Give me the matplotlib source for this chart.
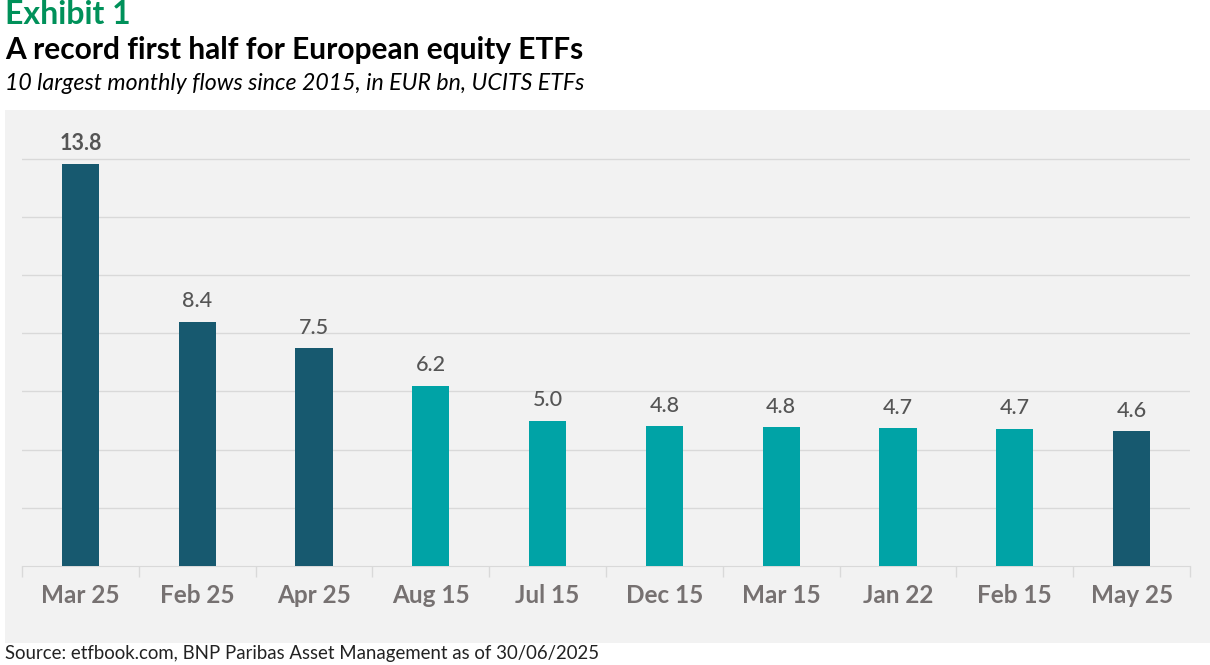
import matplotlib
matplotlib.use("Agg")
import matplotlib.pyplot as plt
from matplotlib.patches import Rectangle

# === Data ===
months = ["Mar 25", "Feb 25", "Apr 25", "Aug 15", "Jul 15",
          "Dec 15", "Mar 15", "Jan 22", "Feb 15", "May 25"]
flows = [13.8, 8.4, 7.5, 6.2, 5.0, 4.8, 4.76, 4.73, 4.72, 4.63]
is_2025 = [True, True, True, False, False, False, False, False, False, True]

DARK = "#17596f"
TEAL = "#00a3a6"
GRID = "#d9d9d9"

plt.rcParams["font.family"] = ["Lato", "DejaVu Sans"]

fig = plt.figure(figsize=(12.1, 6.65), dpi=100)
fig.patch.set_facecolor("white")

# gray panel behind the chart
fig.patches.append(Rectangle((5 / 1210, 22 / 665), 1205 / 1210, 533 / 665,
                             transform=fig.transFigure, facecolor="#f2f2f2",
                             edgecolor="none", zorder=-1))

ax = fig.add_axes([22 / 1210, 99 / 665, 1168 / 1210, 436.5 / 665])
ax.set_facecolor("none")
ax.set_zorder(1)

x = range(len(months))
colors = [DARK if c else TEAL for c in is_2025]
ax.bar(x, flows, width=0.32, color=colors, zorder=3)

for i, v in enumerate(flows):
    ax.text(i, v + 0.35, f"{v:.1f}", ha="center", va="bottom",
            fontsize=15.5, color="#555555",
            fontweight="bold" if i == 0 else "medium")

ax.set_xlim(-0.5, len(months) - 0.5)
ax.set_ylim(0, 15)
ax.set_yticks(range(2, 15, 2))
ax.yaxis.grid(True, color=GRID, linewidth=1)
ax.set_axisbelow(True)
ax.tick_params(axis="y", left=False, labelleft=False)

ax.set_xticks(x)
ax.set_xticklabels(months, fontsize=17.5, fontweight="bold", color="#767171")
ax.tick_params(axis="x", length=0, pad=13)
ax.set_xticks([i - 0.5 for i in range(len(months) + 1)], minor=True)
ax.tick_params(axis="x", which="minor", length=8, color=GRID, width=1)

for s in ["top", "right", "left"]:
    ax.spines[s].set_visible(False)
ax.spines["bottom"].set_color(GRID)

fig.text(5 / 1210, 1 - 15 / 665, "Exhibit 1", fontsize=23, fontweight="bold",
         color="#00915a", va="center", ha="left")
fig.text(5 / 1210, 1 - 50 / 665, "A record first half for European equity ETFs",
         fontsize=21.5, fontweight="bold", color="black", va="center", ha="left")
fig.text(5 / 1210, 1 - 83 / 665,
         "10 largest monthly flows since 2015, in EUR bn, UCITS ETFs",
         fontsize=16.7, style="italic", color="black", va="center", ha="left")
fig.text(5 / 1210, 1 - 654 / 665,
         "Source: etfbook.com, BNP Paribas Asset Management as of 30/06/2025",
         fontsize=13.4, color="#222222", va="center", ha="left")

fig.savefig("out.png", dpi=100)
